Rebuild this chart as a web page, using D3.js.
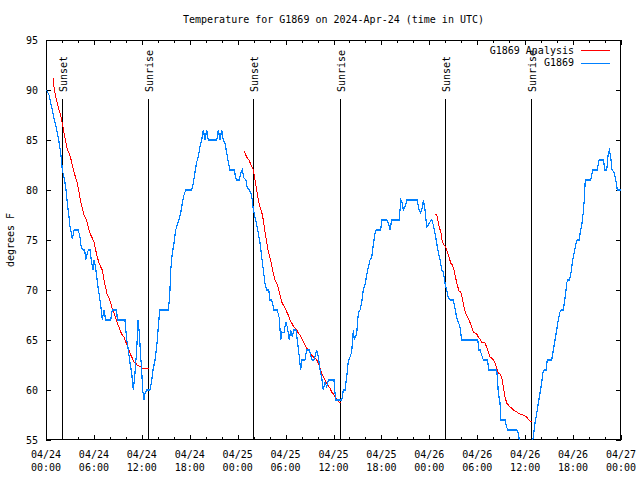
<!DOCTYPE html>
<html><head><meta charset="utf-8">
<script src="https://cdn.jsdelivr.net/npm/d3@7"></script>
<style>
body{margin:0;background:#fff}
svg{display:block}
text{font-family:"DejaVu Sans Mono",monospace;font-size:10px;fill:#000}
</style>
</head><body>
<svg id="chart" width="640" height="480"></svg>
<script>
// ---------------- data ----------------
const chartTitle = "Temperature for G1869 on 2024-Apr-24 (time in UTC)";
const yLabel = "degrees F";
const seriesNames = ["G1869 Analysis", "G1869"];
const seriesColors = ["#ff0000", "#0080ff"];

// hours since 2024-04-24 00:00 UTC
const xMajorTicks = [0,6,12,18,24,30,36,42,48,54,60,66,72];
const xTickDates = ["04/24","04/24","04/24","04/24","04/25","04/25","04/25","04/25","04/26","04/26","04/26","04/26","04/27"];
const xTickTimes = ["00:00","06:00","12:00","18:00","00:00","06:00","12:00","18:00","00:00","06:00","12:00","18:00","00:00"];
const yTicks = [55,60,65,70,75,80,85,90,95];

const sunHours  = [1.95, 12.8, 25.97, 36.85, 50.0, 60.77];
const sunLabels = ["Sunset","Sunrise","Sunset","Sunrise","Sunset","Sunrise"];

// observed G1869
const obsHours = [0.06,0.38,0.59,0.79,1.00,1.21,1.41,1.63,1.84,1.97,2.04,2.25,2.47,2.67,2.88,3.01,3.17,3.29,3.51,4.04,4.26,4.42,4.67,4.85,4.97,5.10,5.30,5.51,5.72,5.89,6.01,6.14,6.30,6.51,6.72,6.92,7.05,7.26,7.48,7.68,8.10,8.30,8.51,8.85,8.93,9.89,10.11,10.31,10.52,10.73,10.93,11.11,11.23,11.36,11.52,11.68,11.86,11.98,12.11,12.27,12.40,12.61,13.02,13.19,13.40,13.65,13.86,14.06,14.24,15.31,15.49,15.62,15.82,16.03,16.24,16.44,16.65,16.87,17.07,17.28,17.49,18.24,18.45,18.66,18.87,19.07,19.28,19.50,19.70,19.91,20.12,20.32,20.62,21.38,21.58,21.79,22.00,22.20,22.41,22.63,22.83,23.04,23.58,23.75,23.88,24.21,24.38,24.58,24.79,25.04,25.21,25.46,25.67,25.83,25.96,26.17,26.38,26.58,26.80,27.01,27.21,27.42,27.64,27.89,28.05,28.26,28.55,28.96,29.21,29.39,29.55,29.80,30.02,30.22,30.47,30.64,30.84,31.05,31.30,31.47,31.72,31.89,32.06,32.43,32.64,32.97,33.31,33.56,33.90,34.10,34.31,34.52,34.72,34.94,35.15,35.35,36.06,36.19,36.31,37.03,37.10,37.23,37.44,37.65,37.85,38.07,38.28,38.48,38.61,38.91,39.11,39.32,39.53,39.73,39.94,40.16,40.36,40.57,40.78,40.98,41.20,41.32,41.91,42.04,42.66,42.86,43.08,43.29,44.24,44.42,44.62,44.74,45.04,45.17,46.49,46.71,46.92,47.12,47.25,47.46,47.67,47.87,48.08,48.30,48.50,48.71,48.92,49.12,49.34,49.55,49.75,49.96,50.18,50.38,50.59,51.00,51.21,51.43,51.63,51.84,52.05,54.06,54.22,54.35,54.76,55.26,55.47,56.44,56.51,56.64,56.85,56.97,57.48,57.69,57.81,58.94,59.14,59.27,59.48,60.73,61.02,61.23,61.45,61.65,61.86,62.07,62.19,62.36,62.61,62.77,63.32,63.53,63.74,63.95,64.15,64.36,64.58,64.78,64.90,65.08,65.20,65.33,65.53,65.74,65.90,66.12,66.37,66.53,66.74,66.95,67.12,67.28,67.40,67.53,68.21,68.46,69.03,69.25,69.79,70.00,70.21,70.41,70.54,70.71,70.88,71.12,71.34,71.54,72.00];
const obsTemps = [90,89.5,88.7,88,87.2,86.5,85.7,84.8,83.7,82.7,82,81.3,80.3,78.7,77.3,76.3,75.7,75.1,76,76,75.3,74.2,74,74,73,73.5,74,74,72.7,72,73,72.5,71.7,70.3,69.2,68,67,68,67,67,67,68,68,68,67,67,65,64,62.7,61.7,60,61.3,62.7,64,67,65.7,63.3,62,60,59,59.7,60,60,60.7,62,63,64.3,66.3,68,68,69.3,72,73.7,74.7,76,76.5,77,77.7,78.7,79.5,80,80,80.7,81.8,82.8,83.3,84.3,85,86,85,86,85,85,85,86,85,86,85,84.7,83.7,82.8,82,82,81.2,81,81,81.7,82,81.2,81,80.2,80,79.7,79,78,77.3,76.5,75.7,74.7,73.3,72,70.7,70,70,69,69,68,68,67.2,65,65.8,65.7,66.8,66.3,65,66,65.3,66,66,65,63.3,62,63,63,64,64,63,63,64,63.3,62,61.3,60,60.8,60.3,61,61,59.7,59,59,59.3,60,60,61.3,62.8,63.3,63.8,66,65,65.7,67.7,68,68.7,70,70.5,71.5,72.3,73,73.2,74.5,75.7,76,76,77,77,76.7,76,77,77,79,78.7,78,78.5,79,79,78,77.7,78.3,79,78,76.3,76.5,76.8,77,76.5,75.7,74.7,73.8,73,72,71.8,70.7,70,69.2,69,69,68.2,67.2,66.8,66.3,65,65,64,64,63,63,62,62,61.3,59.7,58.7,57,57,56.3,56,56,55.7,55,54,54,55.3,56.7,57.7,58.7,59.7,60.7,61.7,62,62,63,63,64,65,66,67,67.8,68,68,68.7,69.7,70.7,71,71,71.7,72.7,73.7,74.7,75,75,76,76.7,77.8,79,81,81,82,82,83,83,82,82,83.7,84,83.3,82,81.8,81,80,80];

// G1869 Analysis (three nightly runs)
const anaHours1 = [0.88,1.00,1.21,1.41,1.63,1.84,2.04,2.25,2.47,2.67,2.88,3.09,3.29,3.51,3.72,3.92,4.13,4.35,4.55,4.76,4.97,5.17,5.38,5.60,5.80,6.01,6.22,6.42,6.64,6.85,7.05,7.26,7.48,7.68,7.89,8.10,8.30,8.51,8.73,8.93,9.14,9.35,9.55,9.77,9.98,10.18,10.39,10.61,10.81,11.02,11.23,11.43,11.65,11.86,12.06,12.90];
const anaTemps1 = [91.2,90.3,89.3,88.7,88,87.5,86.7,85.7,84.8,84,83.7,83.2,82.5,81.8,81.2,80.7,79.8,78.8,78.2,77.5,77.2,76.7,76,75.5,75.2,74.8,74,73.3,72.7,72.3,72,71,70.2,69.5,69.2,68.7,68.1,67.7,67.2,66.7,66.3,65.8,65.5,65.3,64.8,64.5,64,63.5,63.2,62.8,62.7,62.5,62.4,62.3,62.2,62.2];
const anaHours2 = [24.79,25.13,25.42,25.67,25.96,26.17,26.38,26.58,26.80,27.01,27.21,27.42,27.64,27.84,28.05,28.26,28.46,28.68,28.89,29.09,29.30,29.51,29.71,29.93,30.14,30.34,30.55,30.77,30.97,31.18,31.39,31.59,31.81,32.02,32.22,32.43,32.64,32.85,33.06,33.27,33.47,33.68,33.90,34.10,34.31,34.52,34.72,34.94,35.15,35.35,35.56,35.77,35.98,36.19,36.40,36.69,36.88];
const anaTemps2 = [83.9,83.3,83,82.5,82,81,80,79,78.3,77.8,77,75.8,74.8,73.8,73.2,72.5,71.7,71,70.7,70.2,69.5,68.8,68.5,68.2,67.8,67.5,67,66.7,66.4,66.2,66,65.7,65.5,65.2,64.8,64.5,64.2,64,63.8,63.5,63.3,63.2,63,62.7,62.2,61.7,61.3,61,60.7,60.4,60.2,59.8,59.6,59.3,59.1,58.8,58.7];
const anaHours3 = [48.71,48.92,49.05,49.25,49.46,49.62,49.84,50.05,50.25,50.46,50.68,50.88,51.09,51.30,51.50,51.72,51.93,52.13,52.34,52.55,52.76,52.97,53.31,53.51,53.72,53.93,54.13,54.35,54.56,54.76,54.97,55.18,55.39,55.60,55.81,56.01,56.22,56.44,56.64,56.85,57.06,57.26,57.48,57.69,57.89,58.10,58.31,58.52,58.73,58.94,59.14,59.35,59.77,59.98,60.19,60.39,60.61,60.89];
const anaTemps3 = [77.6,77.6,77,76.3,75.7,74.8,74.5,74.3,73.8,73.3,72.7,72.5,72,71.2,70.5,69.9,69.8,69.2,68.3,67.7,67.3,67.0,66.3,65.8,65.7,65.6,65.3,65.1,64.8,64.8,64.7,64.3,63.8,63.3,63.2,63,62.7,62.2,61.7,61.6,61.3,60.3,59.3,58.7,58.5,58.3,58.2,58,57.9,57.8,57.7,57.6,57.5,57.4,57.3,57.1,56.9,56.8];

// ---------------- drawing ----------------
const svg = d3.select("#chart");
const L = 46, R = 621, T = 40, B = 440;
const x = d3.scaleLinear().domain([0, 72]).range([L, R]);
const y = d3.scaleLinear().domain([55, 95]).range([B, T]);
const minorTicks = d3.range(0, 73, 2).filter(h => h % 6 !== 0);

// clip
svg.append("clipPath").attr("id", "clip").append("rect")
  .attr("x", L).attr("y", T).attr("width", R - L).attr("height", B - T);

function strip(g){ g.select(".domain").remove(); g.selectAll("line").attr("stroke","#000").attr("shape-rendering","crispEdges"); }

// axes ticks (gnuplot style: inward, mirrored)
svg.append("g").attr("transform", `translate(0,${B})`)
  .call(d3.axisBottom(x).tickValues(xMajorTicks).tickSize(-5).tickFormat("")).call(strip);
svg.append("g").attr("transform", `translate(0,${B})`)
  .call(d3.axisBottom(x).tickValues(minorTicks).tickSize(-3).tickFormat("")).call(strip);
svg.append("g").attr("transform", `translate(0,${T})`)
  .call(d3.axisTop(x).tickValues(xMajorTicks).tickSize(-5).tickFormat("")).call(strip);
svg.append("g").attr("transform", `translate(0,${T})`)
  .call(d3.axisTop(x).tickValues(minorTicks).tickSize(-3).tickFormat("")).call(strip);
const yAx = svg.append("g").attr("transform", `translate(${L},0)`)
  .call(d3.axisLeft(y).tickValues(yTicks).tickSize(-5).tickPadding(8).tickFormat(d3.format("d"))).call(strip);
yAx.selectAll("text").attr("font-family", null).attr("font-size", null);
svg.append("g").attr("transform", `translate(${R},0)`)
  .call(d3.axisRight(y).tickValues(yTicks).tickSize(-5).tickFormat("")).call(strip);

// x labels
const xl = svg.append("g");
xMajorTicks.forEach((h, i) => {
  xl.append("text").attr("x", x(h)).attr("y", 458).attr("text-anchor", "middle").text(xTickDates[i]);
  xl.append("text").attr("x", x(h)).attr("y", 471).attr("text-anchor", "middle").text(xTickTimes[i]);
});

// frame
svg.append("rect").attr("x", L + 0.5).attr("y", T + 0.5).attr("width", R - L - 1).attr("height", B - T - 1)
  .attr("fill", "none").attr("stroke", "#000").attr("shape-rendering", "crispEdges");

// sunrise / sunset markers
sunHours.forEach((h, i) => {
  const px = Math.round(x(h)) + 0.5;
  svg.append("line").attr("x1", px).attr("x2", px).attr("y1", 99).attr("y2", B)
    .attr("stroke", "#000").attr("shape-rendering", "crispEdges");
  svg.append("text").attr("transform", `translate(${px + 4.5},92) rotate(-90)`).text(sunLabels[i]);
});

// data lines
const line = d3.line().x(d => x(d[0])).y(d => y(d[1]));
const plot = svg.append("g").attr("clip-path", "url(#clip)");
const obs = obsHours.map((h, i) => [h, obsTemps[i]]);
[[anaHours1, anaTemps1], [anaHours2, anaTemps2], [anaHours3, anaTemps3]].forEach(([hs, ts]) => {
  plot.append("path").datum(hs.map((h, i) => [h, ts[i]])).attr("d", line)
    .attr("fill", "none").attr("stroke", seriesColors[0]).attr("stroke-width", 1)
    .attr("shape-rendering", "crispEdges");
});
plot.append("path").datum(obs).attr("d", line)
  .attr("fill", "none").attr("stroke", seriesColors[1]).attr("stroke-width", 1.2)
  .attr("shape-rendering", "crispEdges");

// title & axis label
svg.append("text").attr("x", (L + R) / 2).attr("y", 23).attr("text-anchor", "middle").text(chartTitle);
svg.append("text").attr("transform", "translate(14,240) rotate(-90)").attr("text-anchor", "middle").text(yLabel);

// legend
seriesNames.forEach((n, i) => {
  const ly = 50 + i * 12.5;
  svg.append("text").attr("x", 574).attr("y", ly + 3.5).attr("text-anchor", "end").text(n);
  svg.append("line").attr("x1", 581).attr("x2", 610).attr("y1", Math.round(ly) + 0.5).attr("y2", Math.round(ly) + 0.5)
    .attr("stroke", seriesColors[i]).attr("stroke-width", 1).attr("shape-rendering", "crispEdges");
});
</script>
</body></html>
